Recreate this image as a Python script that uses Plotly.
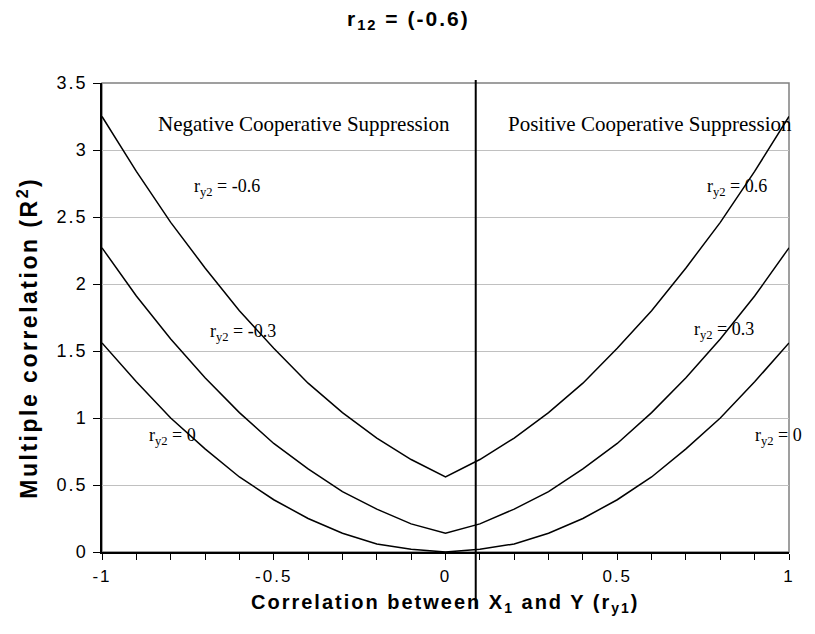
import plotly.graph_objects as go

# ---- data ----
r_y1 = [-1.0, -0.9, -0.8, -0.7, -0.6, -0.5, -0.4, -0.3, -0.2, -0.1, 0.0,
        0.1, 0.2, 0.3, 0.4, 0.5, 0.6, 0.7, 0.8, 0.9, 1.0]
r2_ry2_06 = [3.25, 2.84, 2.46, 2.12, 1.80, 1.52, 1.26, 1.04, 0.85, 0.69, 0.56,
             0.69, 0.85, 1.04, 1.26, 1.52, 1.80, 2.12, 2.46, 2.84, 3.25]
r2_ry2_03 = [2.27, 1.91, 1.59, 1.30, 1.04, 0.81, 0.62, 0.45, 0.32, 0.21, 0.14,
             0.21, 0.32, 0.45, 0.62, 0.81, 1.04, 1.30, 1.59, 1.91, 2.27]
r2_ry2_00 = [1.56, 1.27, 1.00, 0.77, 0.56, 0.39, 0.25, 0.14, 0.06, 0.02, 0.00,
             0.02, 0.06, 0.14, 0.25, 0.39, 0.56, 0.77, 1.00, 1.27, 1.56]
x_tick_vals = [-1, -0.5, 0, 0.5, 1]
x_tick_text = ["-1", "-0.5", "0", "0.5", "1"]
y_tick_vals = [0, 0.5, 1, 1.5, 2, 2.5, 3, 3.5]
y_tick_text = ["0", "0.5", "1", "1.5", "2", "2.5", "3", "3.5"]
divider_x = 0.088

# page is offset by the default 8px body margin
OFF = 8
W, H = 815 - 2 * OFF, 634 - 2 * OFF
# plot area in page pixels: x 102..795, y 83..552
L, T = 102 - OFF, 83 - OFF
PW, PH = 795 - 102, 552 - 83
R, B = W - L - PW, H - T - PH


def px(x):
    return (x - OFF - L) / PW


def py(y):
    return (T + PH - (y - OFF)) / PH


SANS = "Arial, Liberation Sans, sans-serif"
SERIF = "Times New Roman, Liberation Serif, serif"


def spaced(t, sp):
    return '<span style="letter-spacing:%spx">%s</span>' % (sp, t)


fig = go.Figure()
for ys in (r2_ry2_06, r2_ry2_03, r2_ry2_00):
    fig.add_trace(go.Scatter(x=r_y1, y=ys, mode="lines",
                             line=dict(color="black", width=1.5),
                             cliponaxis=False, showlegend=False,
                             hoverinfo="x+y"))

fig.update_layout(
    width=W, height=H, autosize=False,
    margin=dict(l=L, r=R, t=T, b=B),
    paper_bgcolor="white", plot_bgcolor="white",
    showlegend=False,
    xaxis=dict(range=[-1, 1], tickvals=x_tick_vals,
               ticktext=[spaced(t, 2) for t in x_tick_text],
               showgrid=False, zeroline=False, showline=True,
               linecolor="black", linewidth=1.5,
               ticks="outside", ticklen=6, tickcolor="black", tickwidth=1,
               ticklabelstandoff=2,
               minor=dict(dtick=0.1, tick0=0, ticks="outside", ticklen=6,
                          tickcolor="black", tickwidth=1, showgrid=False),
               tickfont=dict(family=SANS, size=17, color="black")),
    yaxis=dict(range=[0, 3.5], tickvals=y_tick_vals,
               ticktext=[spaced(t, 2) for t in y_tick_text],
               showgrid=True, gridcolor="#c0c0c0", gridwidth=1,
               zeroline=False, showline=True, linecolor="black", linewidth=1.5,
               ticks="outside", ticklen=7, tickcolor="black", tickwidth=1,
               ticklabelstandoff=2,
               tickfont=dict(family=SANS, size=18, color="black")),
)

# plot-area border (gray top/right)
fig.add_shape(type="rect", xref="paper", yref="paper", x0=0, y0=0, x1=1, y1=1,
              line=dict(color="#808080", width=1.5), layer="below")
# divider line
fig.add_shape(type="line", xref="x", yref="paper", x0=divider_x, x1=divider_x,
              y0=py(609), y1=py(80), line=dict(color="black", width=2))

annos = [
    (spaced("<b>r<sub>12</sub> = (-0.6)</b>", 2), 411, 20, "center", SANS, 21, 0),
    (spaced("<b>Correlation between X<sub>1</sub> and Y (r<sub>y1</sub>)</b>", 2), 448, 603, "center", SANS, 20, 0),
    (spaced("<b>Multiple correlation (R<sup>2</sup>)</b>", 2.5), 27, 338, "center", SANS, 23, -90),
    ("Negative Cooperative Suppression", 156, 124, "left", SERIF, 21, 0),
    ("Positive Cooperative Suppression", 510, 124, "left", SERIF, 21, 0),
    ("r<sub>y2</sub> = -0.6", 193, 187, "left", SERIF, 18, 0),
    ("r<sub>y2</sub> = -0.3", 209, 332, "left", SERIF, 18, 0),
    ("r<sub>y2</sub> = 0", 147, 436, "left", SERIF, 18, 0),
    ("r<sub>y2</sub> = 0.6", 710, 187, "left", SERIF, 18, 0),
    ("r<sub>y2</sub> = 0.3", 697, 330, "left", SERIF, 18, 0),
    ("r<sub>y2</sub> = 0", 759, 436, "left", SERIF, 18, 0),
]
for text, x, y, anchor, fam, size, ang in annos:
    fig.add_annotation(text=text, xref="paper", yref="paper", x=px(x), y=py(y),
                       xanchor=anchor, yanchor="middle", showarrow=False,
                       textangle=ang, font=dict(family=fam, size=size, color="black"))

fig.write_html("out.html")
